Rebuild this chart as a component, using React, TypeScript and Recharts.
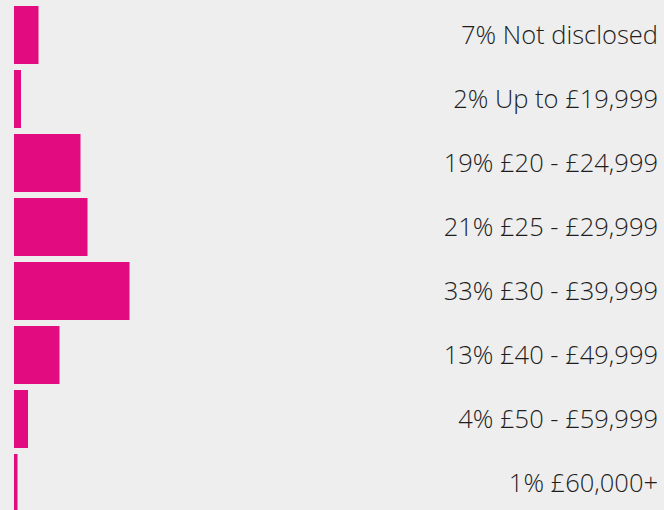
import { Bar, BarChart, XAxis, YAxis } from 'recharts';

const categories = [
  'Not disclosed',
  'Up to £19,999',
  '£20 - £24,999',
  '£25 - £29,999',
  '£30 - £39,999',
  '£40 - £49,999',
  '£50 - £59,999',
  '£60,000+',
];
const shares = [7, 2, 19, 21, 33, 13, 4, 1];

const data = categories.map((name, i) => ({ name, share: shares[i] }));

function SalaryTick(props: any) {
  const { y, payload } = props;
  const share = shares[categories.indexOf(payload.value)];
  return (
    <text
      x={658}
      y={y}
      dy="0.36em"
      textAnchor="end"
      fill="#1e1e1e"
      fontFamily="'Open Sans', sans-serif"
      fontWeight={300}
      fontSize={25.5}
    >
      {`${share}% ${payload.value}`}
    </text>
  );
}

export default function App() {
  return (
    <div
      style={{
        position: 'absolute',
        top: 0,
        left: 0,
        width: 664,
        height: 510,
        overflow: 'hidden',
        background: '#eeeeee',
      }}
    >
      <BarChart
        width={664}
        height={515}
        data={data}
        layout="vertical"
        margin={{ top: 3, right: 5, left: 14, bottom: 0 }}
      >
        <XAxis type="number" hide domain={[0, 184]} />
        <YAxis
          type="category"
          dataKey="name"
          orientation="right"
          width={1}
          axisLine={false}
          tickLine={false}
          tick={(p: any) => <SalaryTick {...p} />}
          interval={0}
        />
        <Bar dataKey="share" fill="#e30b80" barSize={58} isAnimationActive={false} />
      </BarChart>
    </div>
  );
}
